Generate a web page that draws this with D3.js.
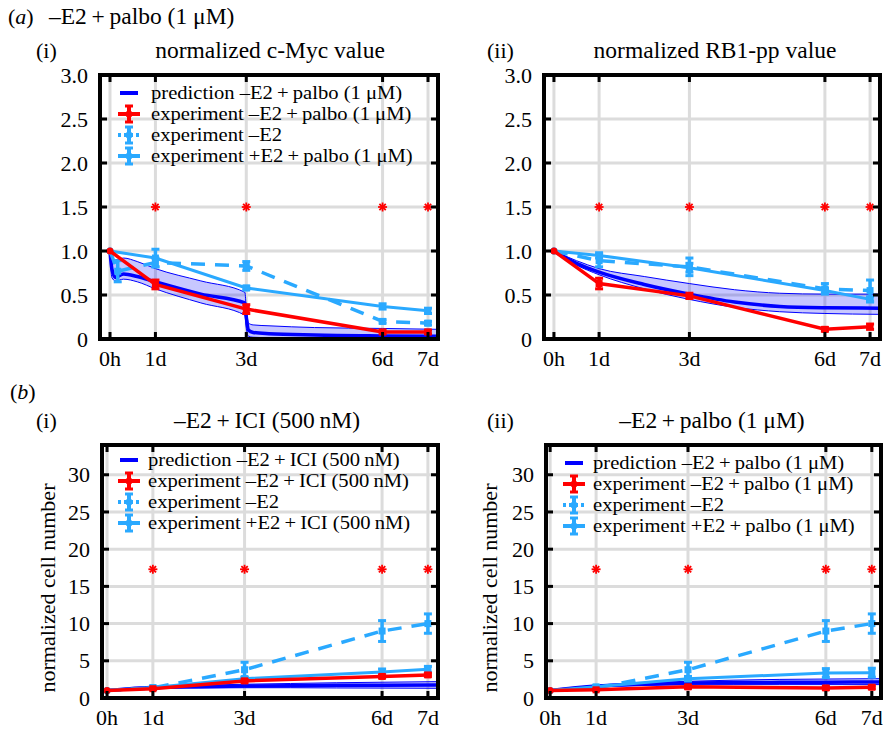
<!DOCTYPE html>
<html><head><meta charset="utf-8">
<script src="https://cdn.jsdelivr.net/npm/d3@7"></script>
<style>body{margin:0;background:#fff}svg{display:block}text{font-family:'Liberation Serif','DejaVu Serif',serif;fill:#000}</style>
</head><body><svg id="c" width="883" height="729" font-family="Liberation Serif, DejaVu Serif, serif"></svg>
<script>
// ---------- data ----------
const xTickDays = [0, 1, 3, 6, 7];
const xTickLabels = ["0h", "1d", "3d", "6d", "7d"];
const fracYTicks = [0, 0.5, 1, 1.5, 2, 2.5, 3];
const fracYTickLabels = ["0", "0.5", "1.0", "1.5", "2.0", "2.5", "3.0"];
const cellYTicks = [0, 5, 10, 15, 20, 25, 30];
const cellYTickLabels = ["0", "5", "10", "15", "20", "25", "30"];
const starDays = [1, 3, 6, 7];

const expT = [0, 1, 3, 6, 7];
// (a)(i) c-Myc
const mycPredT    = [0, 0.04, 0.12, 0.3, 0.6, 1, 2, 2.97, 3.0, 3.05, 3.15, 3.5, 4.5, 6, 7.22];
const mycPredMean = [1, 0.80, 0.70, 0.74, 0.71, 0.65, 0.51, 0.41, 0.25, 0.10, 0.075, 0.06, 0.045, 0.035, 0.03];
const mycPredHi   = [1, 0.93, 0.90, 0.92, 0.88, 0.80, 0.66, 0.53, 0.35, 0.18, 0.16, 0.15, 0.13, 0.12, 0.11];
const mycPredLo   = [1, 0.70, 0.66, 0.68, 0.65, 0.57, 0.41, 0.27, 0.12, 0.03, 0.02, 0.015, 0.01, 0.01, 0.01];
const mycRed      = [1.0, 0.62, 0.34, 0.08, 0.08];
const mycRedErr   = [0, 0.05, 0.05, 0.02, 0.02];
const mycPlusE2   = [1.0, 0.92, 0.58, 0.37, 0.32];
const mycPlusE2Err= [0, 0.10, 0.02, 0.03, 0.03];
const mycMinusE2T = [0, 0.17, 1, 3, 6, 7];
const mycMinusE2  = [1.0, 0.77, 0.87, 0.83, 0.20, 0.18];
const mycMinusE2Err=[0, 0.12, 0.05, 0.05, 0.02, 0.02];
// (a)(ii) RB1-pp
const rbPredT    = [0, 0.5, 1, 2, 3, 4, 5, 6, 7.22];
const rbPredMean = [1, 0.86, 0.76, 0.62, 0.51, 0.42, 0.37, 0.355, 0.35];
const rbPredHi   = [1, 0.89, 0.80, 0.71, 0.63, 0.56, 0.52, 0.51, 0.51];
const rbPredLo   = [1, 0.84, 0.73, 0.57, 0.45, 0.36, 0.31, 0.29, 0.28];
const rbRed      = [1.0, 0.63, 0.49, 0.11, 0.14];
const rbRedErr   = [0, 0.06, 0.03, 0.02, 0.03];
const rbPlusE2   = [1.0, 0.95, 0.81, 0.55, 0.45];
const rbPlusE2Err= [0, 0.03, 0.05, 0.03, 0.03];
const rbMinusE2  = [1.0, 0.89, 0.82, 0.57, 0.55];
const rbMinusE2Err=[0, 0.07, 0.10, 0.06, 0.12];
// (b) cell numbers
const cellPredT   = [0, 0.5, 1, 2, 3, 4, 5, 6, 7.22];
const minusE2Cells = [1, 1.35, 3.8, 9.0, 10.0];
const minusE2CellsErr = [0, 0.1, 1.0, 1.4, 1.3];
const iciPredMean = [1, 1.25, 1.40, 1.52, 1.60, 1.66, 1.70, 1.73, 1.75];
const iciPredHi   = [1, 1.30, 1.50, 1.70, 1.85, 1.95, 2.05, 2.12, 2.20];
const iciPredLo   = [1, 1.20, 1.30, 1.35, 1.38, 1.38, 1.35, 1.33, 1.30];
const iciRed      = [1, 1.25, 2.3, 2.9, 3.1];
const iciRedErr   = [0, 0.1, 0.2, 0.2, 0.2];
const iciPlusE2   = [1, 1.4, 2.6, 3.5, 3.85];
const iciPlusE2Err= [0, 0.1, 0.2, 0.4, 0.4];
const palPredMean = [1, 1.35, 1.60, 1.85, 2.00, 2.07, 2.10, 2.12, 2.15];
const palPredHi   = [1, 1.40, 1.70, 2.05, 2.25, 2.40, 2.50, 2.55, 2.60];
const palPredLo   = [1, 1.30, 1.50, 1.68, 1.78, 1.80, 1.80, 1.80, 1.80];
const palRed      = [1, 1.1, 1.5, 1.35, 1.45];
const palRedErr   = [0, 0.1, 0.2, 0.2, 0.2];
const palPlusE2   = [1, 1.5, 2.6, 3.35, 3.4];
const palPlusE2Err= [0, 0.15, 0.3, 0.6, 0.6];

const legendPalbo = ["prediction \u2013E2\u2009+\u2009palbo (1 \u03BCM)", "experiment \u2013E2\u2009+\u2009palbo (1 \u03BCM)", "experiment \u2013E2", "experiment +E2\u2009+\u2009palbo (1 \u03BCM)"];
const legendICI = ["prediction \u2013E2\u2009+\u2009ICI (500\u2009nM)", "experiment \u2013E2\u2009+\u2009ICI (500\u2009nM)", "experiment \u2013E2", "experiment +E2\u2009+\u2009ICI (500\u2009nM)"];

// ---------- style ----------
const BLUE = "#0000ff", RED = "#ff0000", LBLUE = "#2aa9ff", GRID = "#dcdcdc";
const FONT = "'Liberation Serif','DejaVu Serif',serif";
const svg = d3.select("#c");

function zip(t, v, e) { return t.map((d, i) => ({ t: d, v: v[i], e: e ? e[i] : 0 })); }

function panel(cfg) {
  const g = svg.append("g");
  const x = d3.scaleLinear().domain(cfg.xd).range([cfg.l, cfg.r]);
  const y = d3.scaleLinear().domain(cfg.yd).range([cfg.b, cfg.t]);
  g.selectAll(".gx").data(xTickDays).enter().append("line")
    .attr("x1", d => x(d)).attr("x2", d => x(d)).attr("y1", cfg.t).attr("y2", cfg.b)
    .attr("stroke", GRID).attr("stroke-width", 3);
  g.selectAll(".gy").data(cfg.yTicks).enter().append("line")
    .attr("y1", d => y(d)).attr("y2", d => y(d)).attr("x1", cfg.l).attr("x2", cfg.r)
    .attr("stroke", GRID).attr("stroke-width", 3);
  if (cfg.legend) drawLegend(g, cfg.legend, cfg.lx, cfg.ltx, cfg.ly);
  const st = g.selectAll(".st").data(starDays).enter().append("g")
    .attr("transform", d => `translate(${x(d)},${y(cfg.starY)})`);
  [0, 45, 90, 135].forEach(a => {
    st.append("line").attr("x1", -4.5).attr("x2", 4.5).attr("y1", 0).attr("y2", 0)
      .attr("transform", `rotate(${a})`).attr("stroke", RED).attr("stroke-width", 1.8);
  });
  const clip = "clip" + cfg.id;
  svg.append("clipPath").attr("id", clip).append("rect")
    .attr("x", cfg.l).attr("y", cfg.t).attr("width", cfg.r - cfg.l).attr("height", cfg.b - cfg.t);
  const pg = g.append("g").attr("clip-path", `url(#${clip})`);
  const pred = cfg.predT.map((t, i) => ({ t, m: cfg.predM[i], lo: cfg.predLo[i], hi: cfg.predHi[i] }));
  const curve = d3.curveMonotoneX;
  pg.append("path").datum(pred)
    .attr("d", d3.area().x(d => x(d.t)).y0(d => y(d.lo)).y1(d => y(d.hi)).curve(curve))
    .attr("fill", BLUE).attr("fill-opacity", 0.22);
  ["lo", "hi"].forEach(k => pg.append("path").datum(pred)
    .attr("d", d3.line().x(d => x(d.t)).y(d => y(d[k])).curve(curve))
    .attr("fill", "none").attr("stroke", BLUE).attr("stroke-width", 1));
  pg.append("path").datum(pred)
    .attr("d", d3.line().x(d => x(d.t)).y(d => y(d.m)).curve(curve))
    .attr("fill", "none").attr("stroke", BLUE).attr("stroke-width", 3.5);
  const line = d3.line().x(d => x(d.t)).y(d => y(d.v));
  function series(data, color, dash, w) {
    pg.append("path").datum(data).attr("d", line).attr("fill", "none")
      .attr("stroke", color).attr("stroke-width", w).attr("stroke-dasharray", dash || null);
    const eb = pg.append("g");
    data.forEach(d => {
      if (d.e > 0) {
        eb.append("line").attr("x1", x(d.t)).attr("x2", x(d.t)).attr("y1", y(d.v - d.e)).attr("y2", y(d.v + d.e))
          .attr("stroke", color).attr("stroke-width", 3.5);
        [d.v - d.e, d.v + d.e].forEach(c => eb.append("line").attr("x1", x(d.t) - 4).attr("x2", x(d.t) + 4)
          .attr("y1", y(c)).attr("y2", y(c)).attr("stroke", color).attr("stroke-width", 3));
      }
      eb.append("rect").attr("x", x(d.t) - 3.5).attr("y", y(d.v) - 3.5).attr("width", 7).attr("height", 7)
        .attr("fill", color).attr("rx", d.t === 0 ? 3.5 : 0);
    });
  }
  series(cfg.plus, LBLUE, null, 3);
  series(cfg.minus, LBLUE, "14,10", 3.5);
  series(cfg.red, RED, null, 3.5);
  g.append("rect").attr("x", cfg.l).attr("y", cfg.t).attr("width", cfg.r - cfg.l).attr("height", cfg.b - cfg.t)
    .attr("fill", "none").attr("stroke", "#000").attr("stroke-width", 4);
  xTickDays.forEach(d => {
    g.append("line").attr("x1", x(d)).attr("x2", x(d)).attr("y1", cfg.b).attr("y2", cfg.b - 7).attr("stroke", "#000").attr("stroke-width", 3);
    g.append("line").attr("x1", x(d)).attr("x2", x(d)).attr("y1", cfg.t).attr("y2", cfg.t + 7).attr("stroke", "#000").attr("stroke-width", 3);
  });
  cfg.yTicks.forEach(d => {
    g.append("line").attr("y1", y(d)).attr("y2", y(d)).attr("x1", cfg.l).attr("x2", cfg.l + 7).attr("stroke", "#000").attr("stroke-width", 3);
    g.append("line").attr("y1", y(d)).attr("y2", y(d)).attr("x1", cfg.r).attr("x2", cfg.r - 7).attr("stroke", "#000").attr("stroke-width", 3);
  });
  g.selectAll(".xl").data(xTickDays).enter().append("text")
    .attr("x", d => x(d)).attr("y", cfg.b + 27).attr("text-anchor", "middle")
    .attr("font-family", FONT).style("font-size", "22px").text((d, i) => xTickLabels[i]);
  g.selectAll(".yl").data(cfg.yTicks).enter().append("text")
    .attr("x", cfg.l - 12).attr("y", d => y(d)).attr("dy", "0.35em").attr("text-anchor", "end")
    .attr("font-family", FONT).style("font-size", "22px").text((d, i) => cfg.yTickLabels[i]);
}

function drawLegend(g, labels, sx, tx, y0) {
  const dy = 21;
  labels.forEach((lab, i) => {
    const yy = y0 + i * dy;
    if (i === 0) {
      g.append("line").attr("x1", sx - 9).attr("x2", sx + 9).attr("y1", yy).attr("y2", yy).attr("stroke", BLUE).attr("stroke-width", 4);
    } else {
      const c = i === 1 ? RED : LBLUE;
      g.append("line").attr("x1", sx - 11).attr("x2", sx + 11).attr("y1", yy).attr("y2", yy).attr("stroke", c)
        .attr("stroke-width", 4).attr("stroke-dasharray", i === 2 ? "3,3" : null);
      g.append("line").attr("x1", sx).attr("x2", sx).attr("y1", yy - 8).attr("y2", yy + 8).attr("stroke", c).attr("stroke-width", 4);
      [yy - 8, yy + 8].forEach(cy => g.append("line").attr("x1", sx - 4).attr("x2", sx + 4).attr("y1", cy).attr("y2", cy).attr("stroke", c).attr("stroke-width", 3));
      g.append("circle").attr("cx", sx).attr("cy", yy).attr("r", 3.5).attr("fill", c);
    }
    g.append("g").attr("transform", `translate(${tx},${yy}) scale(1.085,1)`)
      .append("text").attr("x", 0).attr("y", 0).attr("dy", "0.32em").attr("font-family", FONT)
      .style("font-size", "19px").text(lab);
  });
}

// ---------- panels ----------
panel({ id: "a1", l: 100, r: 438, t: 75, b: 339, xd: [-0.22, 7.22], yd: [0, 3],
  yTicks: fracYTicks, yTickLabels: fracYTickLabels, starY: 1.5,
  predT: mycPredT, predM: mycPredMean, predHi: mycPredHi, predLo: mycPredLo,
  red: zip(expT, mycRed, mycRedErr), plus: zip(expT, mycPlusE2, mycPlusE2Err), minus: zip(mycMinusE2T, mycMinusE2, mycMinusE2Err),
  legend: legendPalbo, lx: 129, ltx: 151, ly: 93 });
panel({ id: "a2", l: 544, r: 880, t: 75, b: 339, xd: [-0.22, 7.22], yd: [0, 3],
  yTicks: fracYTicks, yTickLabels: fracYTickLabels, starY: 1.5,
  predT: rbPredT, predM: rbPredMean, predHi: rbPredHi, predLo: rbPredLo,
  red: zip(expT, rbRed, rbRedErr), plus: zip(expT, rbPlusE2, rbPlusE2Err), minus: zip(expT, rbMinusE2, rbMinusE2Err) });
panel({ id: "b1", l: 102, r: 438, t: 445, b: 698, xd: [-0.11, 7.22], yd: [0, 34],
  yTicks: cellYTicks, yTickLabels: cellYTickLabels, starY: 17.3,
  predT: cellPredT, predM: iciPredMean, predHi: iciPredHi, predLo: iciPredLo,
  red: zip(expT, iciRed, iciRedErr), plus: zip(expT, iciPlusE2, iciPlusE2Err), minus: zip(expT, minusE2Cells, minusE2CellsErr),
  legend: legendICI, lx: 129, ltx: 148, ly: 460 });
panel({ id: "b2", l: 546, r: 881, t: 445, b: 698, xd: [-0.09, 7.2], yd: [0, 34],
  yTicks: cellYTicks, yTickLabels: cellYTickLabels, starY: 17.3,
  predT: cellPredT, predM: palPredMean, predHi: palPredHi, predLo: palPredLo,
  red: zip(expT, palRed, palRedErr), plus: zip(expT, palPlusE2, palPlusE2Err), minus: zip(expT, minusE2Cells, minusE2CellsErr),
  legend: legendPalbo, lx: 574, ltx: 593, ly: 463 });

// ---------- titles ----------
function txt(x, y, s, size, anchor) {
  return svg.append("text").attr("x", x).attr("y", y).attr("font-family", FONT)
    .style("font-size", size + "px").attr("text-anchor", anchor || "start").text(s);
}
function label(x, y, letter) {
  const t = svg.append("text").attr("x", x).attr("y", y).attr("font-family", FONT).style("font-size", "22px");
  t.append("tspan").text("(");
  t.append("tspan").style("font-style", "italic").text(letter);
  t.append("tspan").text(")");
}
label(8, 24, "a");
txt(49, 24, "\u2013E2\u2009+\u2009palbo (1 \u03BCM)", 23.5);
txt(36, 58, "(i)", 22);
txt(270, 58, "normalized c-Myc value", 23.5, "middle");
txt(487, 58, "(ii)", 22);
txt(715, 58, "normalized RB1-pp value", 23.5, "middle");
label(10, 399, "b");
txt(36, 428, "(i)", 22);
txt(267, 428, "\u2013E2\u2009+\u2009ICI (500\u2009nM)", 23.5, "middle");
txt(487, 428, "(ii)", 22);
txt(712, 428, "\u2013E2\u2009+\u2009palbo (1 \u03BCM)", 23.5, "middle");
[47, 489].forEach(cx => svg.append("text").attr("transform", `translate(${cx},588) rotate(-90)`)
  .attr("font-family", FONT).attr("text-anchor", "middle").attr("dy", "0.35em").style("font-size", "22px").text("normalized cell number"));
</script></body></html>
